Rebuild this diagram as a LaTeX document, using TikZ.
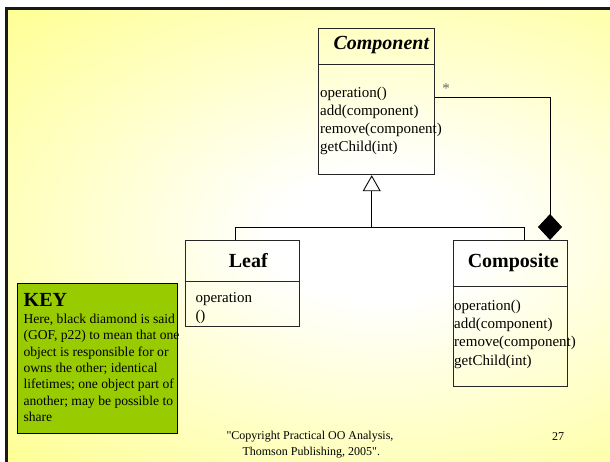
\documentclass[tikz,border=0pt]{standalone}
\usepackage{fontspec}
\setmainfont{Liberation Serif}
\usetikzlibrary{arrows.meta,calc}
\definecolor{slideyellow}{RGB}{255,255,150}
\definecolor{keygreen}{RGB}{153,204,0}
\pgfdeclareradialshading{slidebg}{\pgfpoint{0bp}{0bp}}{color(0bp)=(white); color(7bp)=(white); color(35bp)=(slideyellow); color(80bp)=(slideyellow)}
\newcommand\myfs[1]{\fontsize{#1}{#1}\selectfont}
\begin{document}
\begin{tikzpicture}[x=1pt,y=-1pt,
  classbox/.style={draw=black!85, line width=0.9pt, inner sep=0pt, anchor=north west},
  keybox/.style={draw=black, line width=0.9pt, fill=keygreen, inner sep=0pt, anchor=north west},
  divider/.style={draw=black!85, line width=0.9pt},
  conn/.style={draw=black, line width=0.9pt},
  gen/.style={conn, -{Triangle[fill=white, length=16pt, width=18pt]}},
  agg/.style={conn, {Diamond[length=26pt, width=24pt]}-},
  title/.style={inner sep=0pt, anchor=base, font=\myfs{20}\bfseries},
  optxt/.style={inner sep=0pt, anchor=base west, font=\myfs{15}},
  keytxt/.style={inner sep=0pt, anchor=base west, font=\myfs{13.6}},
  foot/.style={inner sep=0pt, anchor=base, font=\myfs{12}}]
\useasboundingbox (0,0) rectangle (610,462);
\fill[white] (0,0) rectangle (610,462);
\begin{scope}
\clip (7.7,10) rectangle (610,462);
\shade[shading=slidebg] (8,10) rectangle (752,462);
\end{scope}
\draw[line width=2.7pt, black!90] (6.3,462) -- (6.3,8.7) -- (610,8.7);

% Component
\node[classbox, minimum width=115.4pt, minimum height=146pt] (comp) at (318.3,28.3) {};
\draw[divider] ($(comp.north west)+(0,36)$) -- ($(comp.north east)+(0,36)$);
\node[title, font=\myfs{20}\bfseries\itshape] (compt) at (381.3,50) {Component};
\node[optxt] (c1) at (320,97.3) {operation()};
\node[optxt] (c2) at (320,115.4) {add(component)};
\node[optxt] (c3) at (320,133.5) {remove(component)};
\node[optxt] (c4) at (320,151.6) {getChild(int)};

% Leaf
\node[classbox, minimum width=114.6pt, minimum height=86pt] (leaf) at (184.7,240) {};
\draw[divider] ($(leaf.north west)+(0,41)$) -- ($(leaf.north east)+(0,41)$);
\node[title] (leaft) at (248.3,267.3) {Leaf};
\node[optxt] (l1) at (195.3,302.7) {operation};
\node[optxt] (l2) at (195.3,320.7) {()};

% Composite
\node[classbox, minimum width=114.6pt, minimum height=145.7pt] (comps) at (452.7,240) {};
\draw[divider] ($(comps.north west)+(0,46.7)$) -- ($(comps.north east)+(0,46.7)$);
\node[title] (compst) at (513.3,267.3) {Composite};
\node[optxt] (s1) at (454,310.3) {operation()};
\node[optxt] (s2) at (454,328.6) {add(component)};
\node[optxt] (s3) at (454,346.9) {remove(component)};
\node[optxt] (s4) at (454,365.2) {getChild(int)};

% Connectors
\coordinate (jL) at (235.7,227.5);
\coordinate (jR) at (524,227.5);
\coordinate (jM) at (371.7,227.5);
\draw[conn] (leaf.north -| jL) -- (jL) -- (jR) -- (comps.north -| jR);
\draw[gen] (jM) -- (jM |- comp.south);
\coordinate (ag) at (550,97.7);
\draw[agg] (comps.north -| ag) -- (ag) -- (comp.east |- ag);
\node[inner sep=0pt, font=\myfs{15}, text=black!60] (mult) at (446,89) {*};

% KEY
\node[keybox, minimum width=159.7pt, minimum height=150pt] (key) at (17,283.3) {};
\node[inner sep=0pt, anchor=base west, font=\myfs{20}\bfseries] (keyt) at (23.5,306.5) {KEY};
\node[keytxt] (k1) at (23.3,323.3) {Here, black diamond is said};
\node[keytxt] (k2) at (23.3,339.7) {(GOF, p22) to mean that one};
\node[keytxt] (k3) at (23.3,356.1) {object is responsible for or};
\node[keytxt] (k4) at (23.3,372.5) {owns the other; identical};
\node[keytxt] (k5) at (23.3,388.9) {lifetimes; one object part of};
\node[keytxt] (k6) at (23.3,405.3) {another; may be possible to};
\node[keytxt] (k7) at (23.3,421.7) {share};

% Footer
\node[foot] (f1) at (310,439.5) {\textquotedbl Copyright Practical OO Analysis,};
\node[foot] (f2) at (311.3,455) {Thomson Publishing, 2005\textquotedbl.};
\node[foot] (pg) at (558,440.3) {27};
\end{tikzpicture}
\end{document}
